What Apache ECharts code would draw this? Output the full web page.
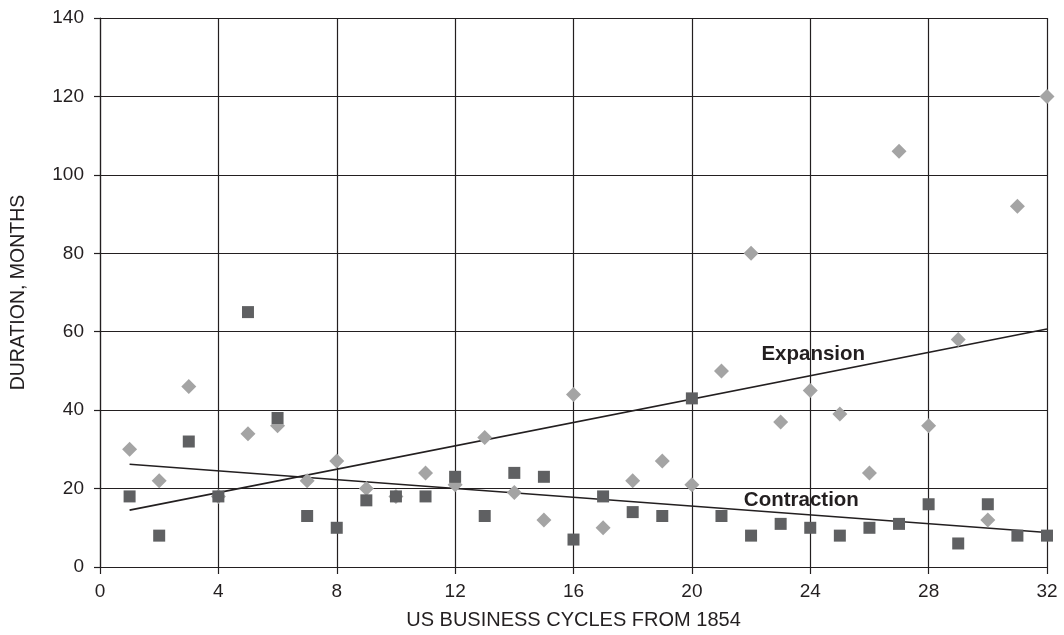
<!DOCTYPE html>
<html><head><meta charset="utf-8">
<script src="https://cdn.jsdelivr.net/npm/echarts@6/dist/echarts.min.js"></script>
<style>html,body{margin:0;padding:0;background:#fff}#c{width:1064px;height:635px}</style>
</head><body><div id="c"></div>
<script>
const cycles = [1,2,3,4,5,6,7,8,9,10,11,12,13,14,15,16,17,18,19,20,21,22,23,24,25,26,27,28,29,30,31,32];
const expansion = [30,22,46,18,34,36,22,27,20,18,24,21,33,19,12,44,10,22,27,21,50,80,37,45,39,24,106,36,58,12,92,120];
const contraction = [18,8,32,18,65,38,13,10,17,18,18,23,13,24,23,7,18,14,13,43,13,8,11,10,8,10,11,16,6,16,8,8];
const expansionTrend = [[1,14.5],[32,60.7]];
const contractionTrend = [[1,26.2],[32,8.8]];
const trendLabels = [{name:'Expansion', x:24.1, y:54.2},{name:'Contraction', x:23.7, y:17.0}];
const xTicks = {min:0, max:32, interval:4};
const yTicks = {min:0, max:140, interval:20};

const font = 'Liberation Sans, Arial, sans-serif';
const ink = '#231f20';
const chart = echarts.init(document.getElementById('c'));
chart.setOption({
  animation:false,
  backgroundColor:'#fff',
  grid:{left:100, right:17, top:18, bottom:66, containLabel:false},
  xAxis:{type:'value', min:xTicks.min, max:xTicks.max, interval:xTicks.interval,
    name:'US BUSINESS CYCLES FROM 1854', nameLocation:'middle', nameGap:43,
    nameTextStyle:{fontFamily:font, fontSize:20, color:ink},
    axisLine:{show:true, onZero:false, lineStyle:{color:ink, width:1.2}},
    axisTick:{show:true, length:7, lineStyle:{color:ink, width:1.2}},
    axisLabel:{fontFamily:font, fontSize:19, color:ink, margin:15},
    splitLine:{show:true, lineStyle:{color:ink, width:1.2}}},
  yAxis:{type:'value', min:yTicks.min, max:yTicks.max, interval:yTicks.interval,
    name:'DURATION, MONTHS', nameLocation:'middle', nameGap:71, nameRotate:90,
    nameTextStyle:{fontFamily:font, fontSize:19.5, color:ink},
    axisLine:{show:true, lineStyle:{color:ink, width:1.2}},
    axisTick:{show:true, length:6, lineStyle:{color:ink, width:1.2}},
    axisLabel:{fontFamily:font, fontSize:19, color:ink, margin:16},
    splitLine:{show:true, lineStyle:{color:ink, width:1.2}}},
  series:[
    {type:'line', data:expansionTrend, symbol:'none', lineStyle:{color:ink, width:1.6}, z:3},
    {type:'line', data:contractionTrend, symbol:'none', lineStyle:{color:ink, width:1.6}, z:3},
    {type:'scatter', data:cycles.map((c,i)=>[c, expansion[i]]), symbol:'diamond', symbolSize:15,
      itemStyle:{color:'#a4a4a4', opacity:1}, z:4},
    {type:'scatter', data:cycles.map((c,i)=>[c, contraction[i]]), symbol:'rect', symbolSize:12,
      itemStyle:{color:'#5f6062', opacity:1}, z:5},
    {type:'scatter', data:trendLabels.map(t=>({name:t.name, value:[t.x,t.y]})), symbolSize:0, z:6,
      itemStyle:{opacity:1},
      label:{show:true, position:'inside', formatter:p=>p.name, fontFamily:font, fontSize:20.5, fontWeight:'bold', color:ink, opacity:1}}
  ]
});
</script></body></html>
